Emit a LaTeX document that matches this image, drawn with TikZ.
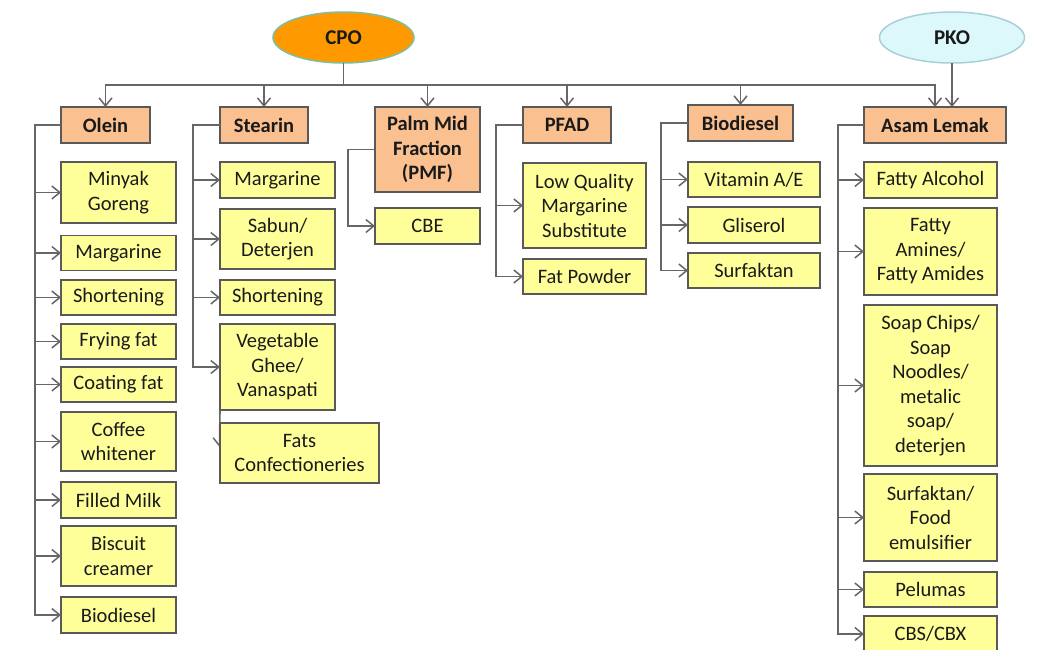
\documentclass[tikz,border=0pt]{standalone}
\usepackage{fontspec}
\setmainfont{Carlito}
\usetikzlibrary{shapes.geometric,arrows.meta}
\definecolor{linegray}{HTML}{666666}
\definecolor{boxline}{HTML}{595959}
\definecolor{prodfill}{HTML}{FFFF99}
\definecolor{fracfill}{HTML}{FAC090}
\definecolor{cpofill}{HTML}{FF9900}
\definecolor{cpoline}{HTML}{7DBFA0}
\definecolor{pkofill}{HTML}{DDF8FB}
\definecolor{pkoline}{HTML}{A9CFD8}
\definecolor{txt}{HTML}{1A1A1A}
\tikzset{
  every node/.style={inner sep=0pt, outer sep=0pt, align=center, text=txt,
    font=\fontsize{20.5}{24.5}\selectfont},
  prodbox/.style={draw=boxline, line width=1.5pt, fill=prodfill, rectangle},
  fracbox/.style={draw=boxline, line width=1.5pt, fill=fracfill, rectangle,
    font=\fontsize{20.5}{24.5}\selectfont\bfseries},
  source/.style={ellipse, line width=1.5pt, font=\fontsize{21}{25}\selectfont\bfseries},
  conn/.style={draw=linegray, line width=1.6pt,
    -{Straight Barb[length=8pt,width=13pt,line width=1.5pt]}},
  wh/.style n args={2}{minimum width=#1, minimum height=#2},
}
\begin{document}
\begin{tikzpicture}[x=1pt,y=-1pt]
\useasboundingbox (0,0) rectangle (1050,649);
\clip (0,0) rectangle (1050,649);

% sources
\node[source, fill=cpofill, draw=cpoline, wh={141}{51}] (cpo) at (343.5,37.5) {CPO};
\node[source, fill=pkofill, draw=pkoline, wh={145}{51}] (pko) at (952,37.5) {PKO};

% fractions
\node[fracbox, wh={89}{36}]  (olein)  at (105.5,125) {Olein};
\node[fracbox, wh={88}{36}]  (stear)  at (264,125)   {Stearin};
\node[fracbox, wh={105}{85}] (pmf)    at (427.5,149.5) {Palm Mid\\Fraction\\(PMF)};
\node[fracbox, wh={88}{36}]  (pfad)   at (567,125)   {PFAD};
\node[fracbox, wh={105}{36}] (biod)   at (740.5,123) {Biodiesel};
\node[fracbox, wh={142}{36}] (asam)   at (935,125)   {Asam Lemak};

% Olein products
\node[prodbox, wh={115}{61}] (ol1) at (118.5,192.5) {Minyak\\Goreng};
\node[prodbox, wh={115}{35}] (ol2) at (118.5,253)   {Margarine};
\node[prodbox, wh={115}{35}] (ol3) at (118.5,297.5) {Shortening};
\node[prodbox, wh={115}{35}] (ol4) at (118.5,341.5) {Frying fat};
\node[prodbox, wh={115}{35}] (ol5) at (118.5,384.5) {Coating fat};
\node[prodbox, wh={115}{59}] (ol6) at (118.5,441.5) {Coffee\\whitener};
\node[prodbox, wh={115}{36}] (ol7) at (118.5,500)   {Filled Milk};
\node[prodbox, wh={115}{60}] (ol8) at (118.5,556)   {Biscuit\\creamer};
\node[prodbox, wh={115}{36}] (ol9) at (118.5,615)   {Biodiesel};

% Stearin products
\node[prodbox, wh={115}{36}] (st1) at (277.5,180)   {Margarine};
\node[prodbox, wh={115}{60}] (st2) at (277.5,239)   {Sabun/\\Deterjen};
\node[prodbox, wh={115}{35}] (st3) at (277.5,297.5) {Shortening};
\node[prodbox, wh={115}{86}] (st4) at (277.5,367)   {Vegetable\\Ghee/\\Vanaspati};

% PMF product
\node[prodbox, wh={105}{36}] (pm1) at (427.5,226) {CBE};

% PFAD products
\node[prodbox, wh={123}{85}] (pf1) at (584.5,205.5) {Low Quality\\Margarine\\Substitute};
\node[prodbox, wh={123}{35}] (pf2) at (584.5,276.5) {Fat Powder};

% Biodiesel products
\node[prodbox, wh={132}{35}] (bd1) at (754,179.5) {Vitamin A/E};
\node[prodbox, wh={132}{36}] (bd2) at (754,225)   {Gliserol};
\node[prodbox, wh={132}{35}] (bd3) at (754,270.5) {Surfaktan};

% Asam Lemak products
\node[prodbox, wh={133}{36}]  (as1) at (930.5,180)   {Fatty Alcohol};
\node[prodbox, wh={133}{87}]  (as2) at (930.5,251.5) {Fatty\\Amines/\\Fatty Amides};
\node[prodbox, wh={133}{161}] (as3) at (930.5,385.5) {Soap Chips/\\Soap\\Noodles/\\metalic\\soap/\\deterjen};
\node[prodbox, wh={133}{87}]  (as4) at (930.5,517.5) {Surfaktan/\\Food\\emulsifier};
\node[prodbox, wh={133}{35}]  (as5) at (930.5,589.5) {Pelumas};
\node[prodbox, wh={133}{36}]  (as6) at (930.5,634)   {CBS/CBX};

% CPO to its fractions over one bus line
\foreach \n in {olein,stear,pmf,pfad,biod,asam}
  \draw[conn] (cpo.south) -- ++(0,22) -| (\n.north);
% PKO to Asam Lemak
\draw[conn] (pko.south) -- (pko.south |- asam.north);

% fraction to product branches
\foreach \c in {ol1,ol2,ol3,ol4,ol5,ol6,ol7,ol8,ol9}
  \draw[conn] (olein.west) -- ++(-26,0) |- (\c.west);
\foreach \c in {st1,st2,st3,st4}
  \draw[conn] (stear.west) -- ++(-27,0) |- (\c.west);
\draw[conn] (pmf.west) -- ++(-27,0) |- (pm1.west);
\foreach \c in {pf1,pf2}
  \draw[conn] (pfad.west) -- ++(-27,0) |- (\c.west);
\foreach \c in {bd1,bd2,bd3}
  \draw[conn] (biod.west) -- ++(-27,0) |- (\c.west);
\foreach \c in {as1,as2,as3,as4,as5,as6}
  \draw[conn] (asam.west) -- ++(-26,0) |- (\c.west);

% short drop toward Fats Confectioneries, mostly behind its box
\coordinate (fatsTip) at (219.5,447);
\draw[conn] (st4.south west) -- (fatsTip);
\node[prodbox, wh={159}{60}] (st5) at (299.5,453) {Fats\\Confectioneries};
\end{tikzpicture}
\end{document}
